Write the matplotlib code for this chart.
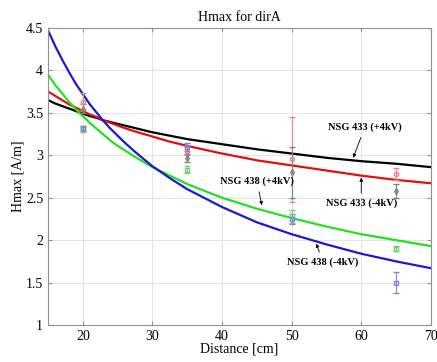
import matplotlib
matplotlib.use("Agg")
import matplotlib.pyplot as plt

plt.rcParams['font.family'] = ['Liberation Serif', 'DejaVu Serif']

# fitted curves, values
d_fit = [15, 16, 17, 18, 19, 20, 21, 22, 23, 24, 25, 26, 27.5, 30, 32.5, 35, 40, 45, 50, 55, 60, 65, 70]
h433_pos = [3.65, 3.61, 3.58, 3.55, 3.52, 3.49, 3.46, 3.44, 3.41, 3.39, 3.37, 3.35, 3.32, 3.27, 3.23,
            3.19, 3.13, 3.07, 3.02, 2.97, 2.93, 2.90, 2.86]
h433_neg = [3.75, 3.70, 3.65, 3.60, 3.56, 3.52, 3.48, 3.45, 3.41, 3.38, 3.35, 3.32, 3.28, 3.22, 3.16,
            3.11, 3.02, 2.94, 2.88, 2.82, 2.76, 2.71, 2.67]
h438_pos = [3.95, 3.83, 3.73, 3.63, 3.54, 3.46, 3.38, 3.31, 3.24, 3.17, 3.11, 3.06, 2.98, 2.86, 2.76,
            2.66, 2.50, 2.37, 2.26, 2.16, 2.07, 2.00, 1.93]
h438_neg = [4.47, 4.29, 4.13, 3.98, 3.84, 3.72, 3.60, 3.50, 3.40, 3.31, 3.23, 3.15, 3.04, 2.87, 2.73,
            2.60, 2.39, 2.21, 2.07, 1.95, 1.84, 1.75, 1.67]

# measured points with error bars
d_meas = [20, 35, 50, 65]
m433_pos = [3.55, 2.97, 2.80, 2.58]
e433_pos = [0.05, 0.05, 0.30, 0.08]
m433_neg = [3.63, 3.05, 2.95, 2.78]
e433_neg = [0.10, 0.05, 0.50, 0.07]
m438_pos = [3.30, 2.83, 2.28, 1.90]
e438_pos = [0.03, 0.04, 0.08, 0.03]
m438_neg = [3.32, 3.10, 2.25, 1.50]
e438_neg = [0.03, 0.05, 0.06, 0.12]

fig = plt.figure(figsize=(4.37, 3.62), dpi=100)
ax = fig.add_axes([0.110, 0.102, 0.876, 0.821])

ax.plot(d_fit, h433_pos, color='black', lw=1.6)
ax.plot(d_fit, h433_neg, color='#e01010', lw=1.6)
ax.plot(d_fit, h438_pos, color='#22e022', lw=1.6)
ax.plot(d_fit, h438_neg, color='#1a1ad0', lw=1.6)

ax.errorbar(d_meas, m433_neg, yerr=e433_neg, fmt='o', color='#f08080', ms=3, mfc='none',
            lw=0.8, capsize=2.5)
ax.errorbar(d_meas, m433_pos, yerr=e433_pos, fmt='d', color='#808080', ms=3, mfc='none',
            lw=0.8, capsize=2.5)
ax.errorbar(d_meas, m438_pos, yerr=e438_pos, fmt='s', color='#70d070', ms=3, mfc='none',
            lw=0.8, capsize=2.5)
ax.errorbar(d_meas, m438_neg, yerr=e438_neg, fmt='s', color='#8080e0', ms=3, mfc='none',
            lw=0.8, capsize=2.5)

akw = dict(fontsize=7.5, fontweight='bold', ha='center', va='center',
           arrowprops=dict(arrowstyle='-|>', color='black', lw=0.6, mutation_scale=5))
ax.annotate('NSG 433 (+4kV)', xy=(58.7, 2.94), xytext=(60.5, 3.33), **akw)
ax.annotate('NSG 433 (-4kV)', xy=(60.0, 2.77), xytext=(60.0, 2.43), **akw)
ax.annotate('NSG 438 (+4kV)', xy=(45.8, 2.38), xytext=(45.0, 2.69), **akw)
ax.annotate('NSG 438 (-4kV)', xy=(53.4, 1.99), xytext=(54.5, 1.74), **akw)

ax.set_xlim(15, 70)
ax.set_ylim(1, 4.5)
ax.set_xticks([20, 30, 40, 50, 60, 70])
ax.set_yticks([1, 1.5, 2, 2.5, 3, 3.5, 4, 4.5])
ax.set_yticklabels(['1', '1.5', '2', '2.5', '3', '3.5', '4', '4.5'])
ax.grid(True, color='#e4e4e4', lw=0.7)
ax.set_axisbelow(True)
ax.tick_params(direction='in', length=3, labelsize=10, color='#909090', top=True, right=True)
for s in ax.spines.values():
    s.set_color('#909090')
ax.set_title('Hmax for dirA', fontsize=10, pad=5)
ax.set_xlabel('Distance [cm]', fontsize=10, labelpad=0)
ax.set_ylabel('Hmax [A/m]', fontsize=10, labelpad=1)

plt.savefig("out.png")
